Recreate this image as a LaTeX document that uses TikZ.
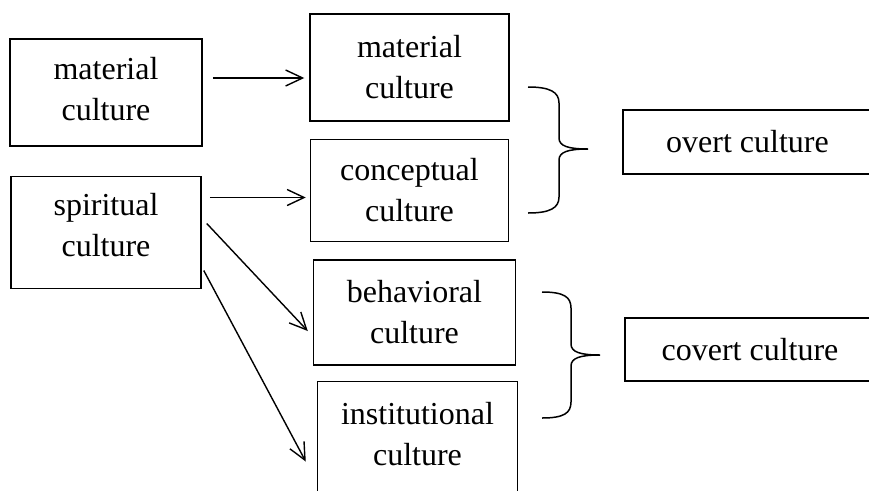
\documentclass[tikz,border=0pt]{standalone}
\usepackage{fontspec}
\setmainfont{Liberation Serif}
\usepackage{tikz}
\usetikzlibrary{arrows.meta, positioning}

\begin{document}
\begin{tikzpicture}[x=1pt, y=-1pt,
    box/.style={draw, line width=1.5pt, font=\fontsize{32}{41}\selectfont,
                align=center, inner sep=0pt},
    arr/.style={-{Straight Barb[length=17pt, width=16pt]}, line width=1.4pt},
    brc/.style={line width=1.5pt}]
  \clip (0,0) rectangle (869,490);
  % left column
  \node[box, minimum width=192pt, minimum height=107pt, text depth=8pt] (lmat) at (106,92.5) {material\\culture};
  \node[box, minimum width=190pt, minimum height=112pt, text depth=16pt, below=29pt of lmat] (lspi) {spiritual\\culture};
  % middle column
  \node[box, minimum width=199pt, minimum height=107pt] (mmat) at (409.5,67.5) {material\\culture};
  \node[box, minimum width=198pt, minimum height=102pt, below=17pt of mmat] (mcon) {conceptual\\culture};
  \node[box, minimum width=202pt, minimum height=105pt, below=17pt of mcon, xshift=5pt] (mbeh) {behavioral\\culture};
  \node[box, minimum width=200pt, minimum height=115pt, text depth=10pt, below=15pt of mbeh, xshift=3pt] (mins) {institutional\\culture};
  % right column
  \node[box, minimum width=249pt, minimum height=64pt] (overt) at (747.5,142) {overt culture};
  \node[box, minimum width=250pt, minimum height=63pt] (covert) at (750,349.5) {covert culture};
  % arrows
  \draw[arr] ([xshift=10pt, yshift=14.5pt]lmat.east) -- ([xshift=-5pt, yshift=-10.5pt]mmat.west);
  \draw[arr] ([xshift=8pt, yshift=35pt]lspi.east) -- ([xshift=-4pt, yshift=-7pt]mcon.west);
  \draw[arr] ([xshift=5pt, yshift=9pt]lspi.east) -- ([xshift=-5pt, yshift=-18.5pt]mbeh.west);
  \draw[arr] ([xshift=2pt, yshift=-38pt]lspi.east) -- ([xshift=-11pt, yshift=-22.5pt]mins.west);
  % braces
  \draw[brc] (528,87) .. controls (550,87) and (559,92) .. (559,103) -- (559,138)
    .. controls (559,146) and (568,149) .. (588,149)
    .. controls (568,149) and (559,152) .. (559,160) -- (559,197)
    .. controls (559,208) and (550,213) .. (528,213);
  \draw[brc] (542,292) .. controls (564,292) and (571,297) .. (571,308) -- (571,344)
    .. controls (571,352) and (580,355) .. (600,355)
    .. controls (580,355) and (571,358) .. (571,366) -- (571,402)
    .. controls (571,413) and (564,418) .. (542,418);
\end{tikzpicture}
\end{document}
